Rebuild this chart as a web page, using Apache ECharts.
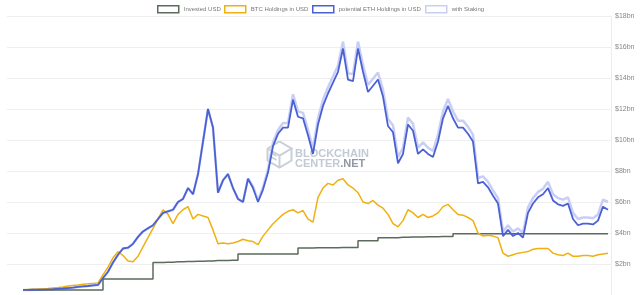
<!DOCTYPE html>
<html>
<head>
<meta charset="utf-8">
<script src="https://cdn.jsdelivr.net/npm/echarts@6/dist/echarts.min.js"></script>
<style>html,body{margin:0;padding:0;background:#fff}#c{width:640px;height:295px}</style>
</head>
<body>
<div id="c"></div>
<script>
// Series names
const seriesNames = ['Invested USD', 'BTC Holdings in USD', 'potential ETH Holdings in USD', 'with Staking'];
// Y tick labels (bn USD)
const yTicks = [0, 2, 4, 6, 8, 10, 12, 14, 16, 18];

// Values in $bn, one per sample (time order)
const invested = [
0.33,0.33,0.33,0.33,0.33,0.33,0.33,0.33,0.33,0.33,0.33,0.33,0.33,0.33,0.33,0.33,
1.03,1.03,1.03,1.03,1.03,1.03,1.03,1.03,1.03,1.03,
2.1,2.1,2.12,2.12,2.14,2.14,2.16,2.16,2.18,2.18,2.2,2.2,2.22,2.22,2.22,2.24,2.24,
2.65,2.65,2.65,2.65,2.65,2.65,2.65,2.65,2.65,2.65,2.65,2.65,
3.03,3.03,3.03,3.05,3.05,3.05,3.05,3.05,3.07,3.07,3.07,3.07,
3.5,3.5,3.5,3.5,
3.7,3.7,3.7,3.7,3.72,3.72,3.74,3.74,3.74,3.76,3.76,3.76,3.78,3.78,3.78,
3.95,3.95,3.95,3.95,3.95,3.95,3.95,3.95,3.95,3.95,3.95,3.95,3.95,3.95,3.95,3.95,3.95,3.95,3.95,3.95,3.95,3.95,3.95,3.95,3.95,3.95,3.95,3.95,3.95,3.95,3.95,3.95
];
const btc = [
0.33,0.35,0.37,0.38,0.40,0.42,0.45,0.48,0.52,0.58,0.62,0.65,0.70,0.72,0.75,0.78,
1.3,1.8,2.4,2.8,2.55,2.2,2.15,2.5,3.1,3.7,
4.3,4.9,5.5,5.2,4.6,5.2,5.5,5.7,4.9,5.2,5.1,5.0,4.2,3.3,3.35,3.3,3.35,
3.45,3.6,3.5,3.45,3.25,3.8,4.2,4.6,4.9,5.2,5.4,5.5,
5.3,5.45,4.9,4.7,6.3,6.9,7.2,7.1,7.4,7.5,7.1,6.9,
6.6,6.0,5.9,6.1,
5.8,5.6,5.2,4.6,4.4,4.8,5.5,5.3,5.0,5.2,5.0,5.1,5.3,5.7,5.85,
5.5,5.2,5.15,5.0,4.8,4.0,3.8,3.85,3.8,3.7,2.7,2.5,2.6,2.7,2.75,2.8,2.95,3.0,3.0,3.0,2.7,2.6,2.55,2.7,2.5,2.5,2.55,2.55,2.5,2.6,2.65,2.7
];
const eth = [
0.33,0.33,0.34,0.34,0.35,0.36,0.37,0.40,0.42,0.45,0.48,0.52,0.55,0.58,0.62,0.65,
1.1,1.5,2.1,2.6,3.0,3.05,3.3,3.75,4.1,4.3,
4.5,4.9,5.3,5.4,5.5,6.0,6.2,6.9,6.5,7.8,9.9,12.0,10.8,6.6,7.4,7.8,6.9,
6.2,6.0,7.5,6.9,6.0,6.8,7.9,9.6,10.4,10.8,10.8,12.6,
11.5,11.4,10.3,9.1,11.0,12.2,13.0,13.7,14.4,15.9,13.9,13.8,
15.9,14.4,13.1,13.5,
13.9,12.8,10.9,10.5,8.5,9.1,11.0,10.6,9.1,9.4,9.1,8.9,9.9,11.4,12.2,
11.4,10.8,10.8,10.4,9.9,7.2,7.3,6.95,6.4,5.9,3.8,4.2,3.8,4.0,3.7,5.3,5.9,6.3,6.5,6.9,6.1,5.85,5.75,5.9,4.9,4.5,4.6,4.6,4.55,4.8,5.7,5.5
];
const staking = [
0.33,0.33,0.34,0.34,0.35,0.36,0.37,0.40,0.42,0.45,0.48,0.52,0.55,0.58,0.62,0.65,
1.1,1.5,2.1,2.6,3.0,3.05,3.3,3.75,4.1,4.3,
4.5,4.9,5.3,5.4,5.5,6.0,6.2,6.9,6.5,7.8,9.9,12.0,10.8,6.6,7.4,7.8,6.9,
6.2,6.0,7.5,7.0,6.1,6.95,8.1,9.85,10.65,11.1,11.1,12.95,
11.85,11.75,10.65,9.45,11.4,12.6,13.4,14.1,14.8,16.35,14.3,14.25,
16.35,14.85,13.55,13.95,
14.35,13.25,11.35,10.95,8.9,9.5,11.45,11.05,9.5,9.85,9.5,9.3,10.35,11.85,12.65,
11.85,11.25,11.25,10.85,10.35,7.55,7.65,7.3,6.75,6.25,4.1,4.5,4.1,4.3,4.0,5.65,6.25,6.65,6.85,7.3,6.5,6.25,6.15,6.3,5.3,4.9,5.0,5.0,4.95,5.2,6.15,6.0
];

const colors = ['#5b6b5c', '#f0b010', '#4a61d4', '#c9cef6'];
const pairs = arr => arr.map((v, i) => [i, v]);

const chart = echarts.init(document.getElementById('c'), null, {renderer: 'canvas'});
const legendLefts = [157, 224, 312, 425];
const legendFont = {fontSize: 6, color: '#777', fontFamily: 'Liberation Sans, Arial, sans-serif'};

chart.setOption({
  animation: false,
  backgroundColor: '#fff',
  legend: seriesNames.map((n, k) => ({
    left: legendLefts[k], top: 5, padding: 0,
    itemWidth: 21, itemHeight: 7, itemGap: 0,
    icon: 'rect',
    textStyle: legendFont,
    data: [{name: n, itemStyle: {color: '#fff', borderColor: colors[k], borderWidth: 1.5}}]
  })),
  grid: {left: 7, right: 29, top: 16, bottom: -4.5, containLabel: false},
  xAxis: {
    type: 'value', min: -3.2, max: 117.6,
    axisLine: {show: false}, axisTick: {show: false}, axisLabel: {show: false}, splitLine: {show: false}
  },
  yAxis: {
    type: 'value', position: 'right', min: yTicks[0], max: yTicks[yTicks.length - 1], interval: 2,
    axisLine: {show: true, onZero: false, lineStyle: {color: '#ececec'}},
    axisTick: {show: false},
    axisLabel: {
      margin: 4, color: '#888', fontSize: 7, fontFamily: 'Liberation Sans, Arial, sans-serif',
      formatter: v => v === 0 ? '' : '$' + v + 'bn'
    },
    splitLine: {lineStyle: {color: '#efefef', width: 1}}
  },
  graphic: [
    {type: 'group', left: 265, top: 139, silent: true, z: 0, children: [
      {type: 'polyline', shape: {points: [[2,10],[14,3],[26,10],[14,17],[2,10]]}, style: {stroke: '#c8cfd9', lineWidth: 2, fill: null}},
      {type: 'polyline', shape: {points: [[2,10],[2,22],[14,29],[26,22],[26,10]]}, style: {stroke: '#c8cfd9', lineWidth: 2, fill: null}},
      {type: 'polyline', shape: {points: [[14,17],[14,29]]}, style: {stroke: '#c8cfd9', lineWidth: 2}},
      {type: 'polyline', shape: {points: [[5,14],[11,17.5]]}, style: {stroke: '#c8cfd9', lineWidth: 1.5}},
      {type: 'polyline', shape: {points: [[5,18],[11,21.5]]}, style: {stroke: '#c8cfd9', lineWidth: 1.5}}
    ]},
    {type: 'text', left: 295, top: 148, silent: true, z: 0, style: {text: 'BLOCKCHAIN', fill: '#c2cad6', font: 'bold 11px "Liberation Sans", Arial, sans-serif'}},
    {type: 'text', left: 295, top: 158, silent: true, z: 0, style: {
      text: '{a|CENTER}{b|.NET}',
      rich: {
        a: {fill: '#c2cad6', font: 'bold 11px "Liberation Sans", Arial, sans-serif'},
        b: {fill: '#8f99a6', font: 'bold 11px "Liberation Sans", Arial, sans-serif'}
      }
    }}
  ],
  series: [
    {name: seriesNames[0], type: 'line', step: 'end', data: pairs(invested), symbol: 'none', z: 3,
     lineStyle: {color: colors[0], width: 1.5}, itemStyle: {color: colors[0]}},
    {name: seriesNames[1], type: 'line', data: pairs(btc), symbol: 'none', z: 4,
     lineStyle: {color: colors[1], width: 1.5}, itemStyle: {color: colors[1]}},
    {name: seriesNames[2], type: 'line', data: pairs(eth), symbol: 'none', z: 5,
     lineStyle: {color: colors[2], width: 1.8}, itemStyle: {color: colors[2]}},
    {name: seriesNames[3], type: 'line', data: pairs(staking), symbol: 'none', z: 2,
     lineStyle: {color: colors[3], width: 2.5}, itemStyle: {color: colors[3]}}
  ]
});
</script>
</body>
</html>
